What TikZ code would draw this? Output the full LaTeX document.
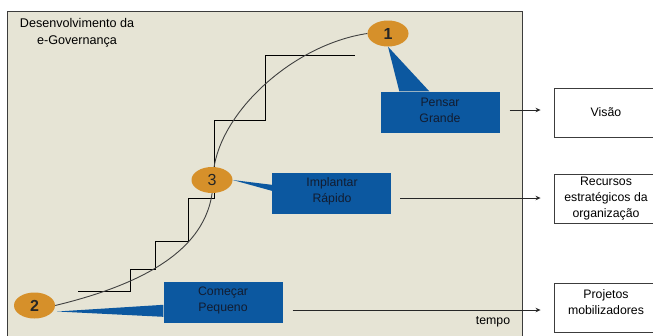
\documentclass[tikz,border=0pt]{standalone}
\usepackage{fontspec}
\setmainfont{Liberation Sans}
\usetikzlibrary{arrows.meta,shapes.geometric,calc}
\definecolor{panelbg}{RGB}{230,228,213}
\definecolor{ovalc}{RGB}{214,144,42}
\definecolor{boxblue}{RGB}{12,88,160}
\definecolor{boxtxt}{RGB}{18,28,48}
\definecolor{edgegray}{RGB}{60,60,60}
\tikzset{
  txt/.style={font=\fontsize{12.3}{16}\selectfont, align=center, inner sep=0pt},
  oval/.style={ellipse, fill=ovalc, draw=none, minimum width=41pt, minimum height=26pt, inner sep=0pt, font=\fontsize{16}{16}\selectfont, text=black!85},
  bluebox/.style={rectangle, fill=boxblue, draw=none, minimum width=119pt, minimum height=41pt, inner sep=0pt},
  outbox/.style={rectangle, fill=white, draw=edgegray, line width=0.9pt, minimum width=104pt, minimum height=49pt, inner sep=0pt},
  pointer/.style={fill=boxblue, draw=none},
  arr/.style={draw=black!85, line width=0.8pt, -{Stealth[length=5pt,width=4.5pt]}},
}
\begin{document}
\begin{tikzpicture}[x=1pt,y=-1pt]
\useasboundingbox (0,0) rectangle (653,335);
\clip (0,0) rectangle (653,335);
% panel
\node[draw=edgegray, line width=0.9pt, fill=panelbg, minimum width=515pt, minimum height=335pt, inner sep=0pt, anchor=north west] (panel) at (7,11) {};
\node[txt, font=\fontsize{12.6}{16.5}\selectfont] (title) at (77,33) {Desenvolvimento da\\e-Governança};
\node[txt] (tempo) at (493,322) {tempo};
% staircase
\draw[black, line width=0.9pt] (78,291) -- (130,291) -- (130,269) -- (155,269) -- (155,241) -- (188,241) -- (188,198) -- (214,198) -- (214,120) -- (265,120) -- (265,55) -- (355,55);
% ovals
\node[oval] (e1) at (388,33.5) {\textbf{1}};
\node[oval] (e2) at (34.5,305.5) {\textbf{2}};
\coordinate (mid) at (213,180);
% curve
\draw[black!75, line width=0.9pt] (e2.east) .. controls (140,285) and (213,250) .. (mid);
\draw[black!75, line width=0.9pt] (mid) .. controls (213,118) and (290,45) .. (e1.west);
\node[oval] (e3) at (212,180) {3};
% blue boxes
\node[bluebox] (pensar) at (440,112) {};
\node[bluebox] (implantar) at (331.5,193.5) {};
\node[bluebox] (comecar) at (223,302.5) {};
% pointers
\fill[pointer] (e1.south) -- ([xshift=19pt]pensar.north west) -- ([xshift=49pt]pensar.north west) -- cycle;
\fill[pointer] (e3.east) -- ([yshift=-12pt]implantar.north west) -- ([yshift=-18pt]implantar.north west) -- cycle;
\fill[pointer] ([shift={(2pt,-6pt)}]e2.east) -- ([yshift=-23pt]comecar.north west) -- ([yshift=-35pt]comecar.north west) -- cycle;
\node[txt, text=boxtxt] (pensart) at (440,110) {Pensar\\Grande};
\node[txt, text=boxtxt] (implantart) at (332,191) {Implantar\\Rápido};
\node[txt, text=boxtxt] (comecart) at (223,300.5) {Começar\\Pequeno};
% right boxes
\node[outbox] (visao) at (606,112.5) {};
\node[txt] (visaot) at (606,112) {Visão};
\node[outbox] (recursos) at (606,198.5) {};
\node[txt] (recursost) at (606,199) {Recursos\\estratégicos da\\organização};
\node[outbox] (projetos) at (606,307.5) {};
\node[txt] (projetost) at (606,302.5) {Projetos\\mobilizadores};
% arrows
\draw[arr] ($(pensar.east)+(10,-2)$) -- ($(visao.west |- pensar.east)+(-13,-2)$);
\draw[arr] ($(implantar.east)+(9,4.5)$) -- ($(recursos.west |- implantar.east)+(-13,4.5)$);
\draw[arr] ($(comecar.east)+(10,7.5)$) -- ($(projetos.west |- comecar.east)+(-13,7.5)$);
\end{tikzpicture}
\end{document}
